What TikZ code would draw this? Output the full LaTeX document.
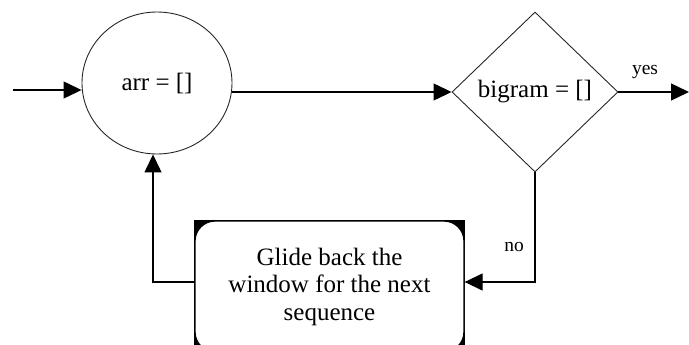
\documentclass[tikz,border=0pt]{standalone}
\usepackage{fontspec}
\setmainfont{Liberation Serif}
\usetikzlibrary{shapes.geometric,arrows.meta,backgrounds}
\begin{document}
\begin{tikzpicture}[x=1pt,y=-1pt,
  shapeline/.style={draw=black!85,line width=0.9pt},
  conn/.style={draw=black,line width=1.3pt,-{Triangle[length=18pt,width=17pt]}},
  bigtext/.style={font=\fontsize{25}{27.5}\selectfont},
  smalltext/.style={font=\fontsize{19.5}{22}\selectfont}]
\useasboundingbox (0,0) rectangle (689,345);
\clip (0,0) rectangle (689,345);
\node[ellipse,shapeline,minimum width=150pt,minimum height=142pt,inner sep=0pt,bigtext] (circ) at (157,83) {arr = []};
\node[diamond,shapeline,minimum width=166pt,minimum height=160pt,inner sep=0pt,bigtext] (dia) at (535,92) {bigram = []};
\node[rectangle,draw=black,line width=1.3pt,fill=white,rounded corners=20pt,minimum width=269pt,minimum height=131pt,inner sep=0pt,align=center,bigtext] (box) at (329.5,286.5) {Glide back the\\window for the next\\sequence};
\begin{scope}[on background layer]
  \fill[black] (box.north west) rectangle (box.south east);
\end{scope}
\coordinate (start) at (13,90);
\coordinate (endyes) at (689,92);
\coordinate (noc) at (535,282);
\draw[conn] (start) -- (start -| circ.west);
\draw[conn] (circ.east |- dia.west) -- (dia.west);
\draw[conn] (dia.east) -- (endyes);
\draw[conn] (dia.south) -- (noc) -- (box.east |- noc);
\draw[conn] (box.west |- noc) -| ([xshift=-4pt]circ.south);
\node[smalltext] (yes) at (645,72) {yes};
\node[smalltext] (no) at (514,247) {no};
\end{tikzpicture}
\end{document}
